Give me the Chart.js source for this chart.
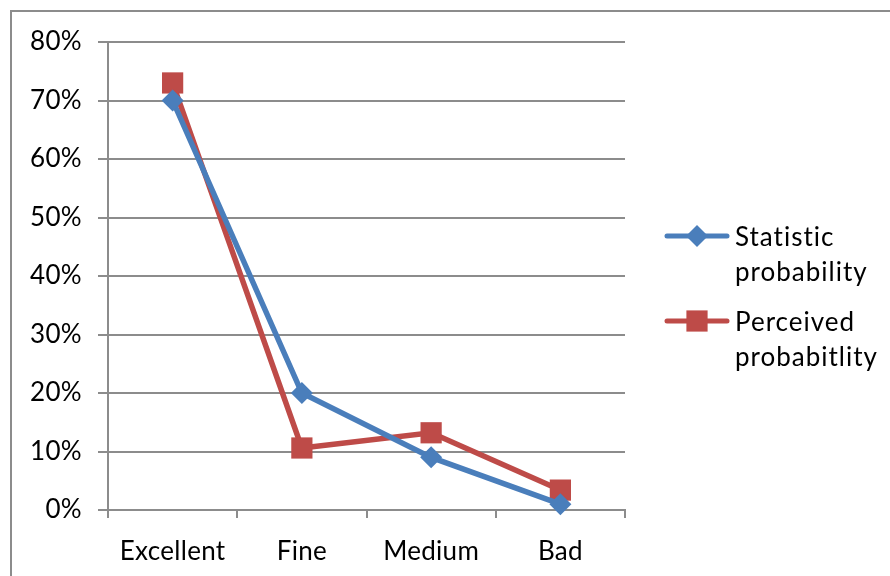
<!DOCTYPE html>
<html>
<head>
<meta charset="utf-8">
<script src="https://cdn.jsdelivr.net/npm/chart.js@4/dist/chart.umd.min.js"></script>
<style>
  html, body { margin: 0; background: #fff; }
  #wrap { width: 890px; height: 576px; position: relative; }
</style>
</head>
<body>
<div id="wrap"><canvas id="chart" width="890" height="576"></canvas></div>
<script>
// values, in percent
const categories = ['Excellent', 'Fine', 'Medium', 'Bad'];
const statistic = [70, 20, 9, 1];
const perceived = [73, 10.6, 13.2, 3.4];
const statisticLabel = ['Statistic', 'probability'];
const perceivedLabel = ['Perceived', 'probabitlity'];
const yMin = 0, yMax = 80, yStep = 10;

const gray = '#8c8c8c';
const blue = '#4a7ebb';
const red = '#be4b48';
const fontFamily = 'Lato, "Noto Sans", sans-serif';

// outer frame + legend on the right, drawn by hand (Excel style)
const frameAndLegend = {
    id: 'frameAndLegend',
    beforeDraw(chart) {
        let ctx = chart.ctx;
        // a little spacing, also keeps "ti" from turning into a ligature
        ctx.letterSpacing = '0.3px';
        ctx.save();
        ctx.strokeStyle = gray;
        ctx.lineWidth = 2;
        ctx.strokeRect(11, 11, 1000, 1000);
        ctx.restore();
    },
    afterDraw(chart) {
        let ctx = chart.ctx;
        chart.data.datasets.forEach(function (ds, i) {
            let y = 236 + i * 85;
            ctx.save();
            ctx.strokeStyle = ds.borderColor;
            ctx.lineWidth = 5;
            ctx.lineCap = 'round';
            ctx.beginPath();
            ctx.moveTo(667, y);
            ctx.lineTo(727, y);
            ctx.stroke();
            ctx.fillStyle = ds.pointBackgroundColor;
            Chart.helpers.drawPoint(ctx, {
                pointStyle: ds.pointStyle,
                rotation: 0,
                radius: ds.pointRadius,
                borderWidth: 0
            }, 697, y);
            ctx.fillStyle = '#000';
            ctx.letterSpacing = '1px';
            ctx.font = '26px ' + fontFamily;
            ctx.textBaseline = 'middle';
            ctx.textAlign = 'left';
            ds.legendLines.forEach(function (t, k) {
                ctx.fillText(t, 735, y + 2 + k * 35);
            });
            ctx.restore();
        });
    }
};

new Chart(document.getElementById('chart').getContext('2d'), {
    type: 'line',
    data: {
        labels: categories,
        datasets: [
            {
                label: statisticLabel.join(' '),
                legendLines: statisticLabel,
                data: statistic,
                borderColor: blue,
                backgroundColor: blue,
                pointBackgroundColor: blue,
                pointBorderWidth: 0,
                pointStyle: 'rectRot',
                pointRadius: 11,
                borderWidth: 5.5,
                tension: 0,
                clip: false
            },
            {
                label: perceivedLabel.join(' '),
                legendLines: perceivedLabel,
                data: perceived,
                borderColor: red,
                backgroundColor: red,
                pointBackgroundColor: red,
                pointBorderWidth: 0,
                pointStyle: 'rect',
                pointRadius: 15,
                borderWidth: 5.5,
                tension: 0,
                clip: false
            }
        ]
    },
    options: {
        responsive: false,
        animation: false,
        devicePixelRatio: 1,
        layout: {
            padding: { top: 42, right: 265, left: 0, bottom: 0 }
        },
        scales: {
            x: {
                offset: true,
                afterFit: function (s) { s.height = 66; },
                grid: {
                    offset: true,
                    drawOnChartArea: false,
                    tickLength: 8,
                    color: gray,
                    lineWidth: 2
                },
                border: { color: gray, width: 2 },
                ticks: {
                    color: '#000',
                    padding: 18,
                    font: { family: fontFamily, size: 26 }
                }
            },
            y: {
                min: yMin,
                max: yMax,
                afterFit: function (s) { s.width = 108; },
                grid: {
                    color: gray,
                    lineWidth: 2,
                    tickLength: 10
                },
                border: { color: gray, width: 2 },
                ticks: {
                    stepSize: yStep,
                    color: '#000',
                    padding: 16,
                    font: { family: fontFamily, size: 26 },
                    callback: function (v) { return v + '%'; }
                }
            }
        },
        plugins: {
            legend: { display: false },
            tooltip: { enabled: false }
        }
    },
    plugins: [frameAndLegend]
});
</script>
</body>
</html>
